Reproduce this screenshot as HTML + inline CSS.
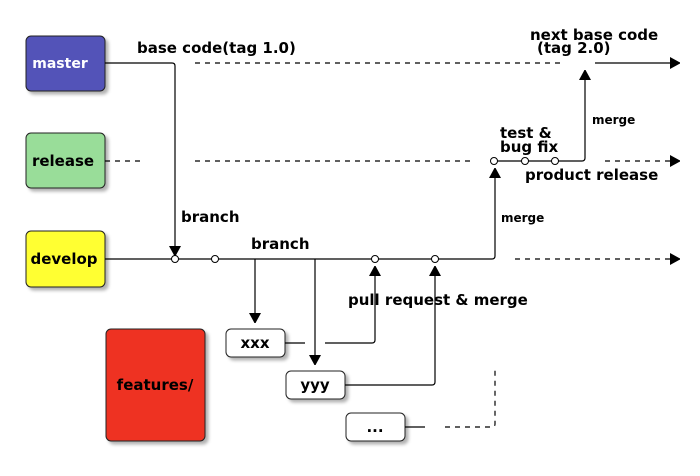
<!DOCTYPE html>
<html><head><style>body{margin:0;background:#fff}svg{display:block}text{font-family:"DejaVu Sans","Liberation Sans",sans-serif;font-weight:bold}</style></head>
<body>
<svg width="700" height="476" viewBox="0 0 700 476" xmlns="http://www.w3.org/2000/svg">
<defs>
<filter id="sh" x="-10%" y="-10%" width="130%" height="130%"><feDropShadow dx="3" dy="3" stdDeviation="1.5" flood-color="#000" flood-opacity="0.3"/></filter>
<marker id="ar" markerWidth="10" markerHeight="12" refX="10" refY="6" orient="auto" markerUnits="userSpaceOnUse"><path d="M0,0 L11,6 L0,12 z" fill="#000"/></marker>
</defs>
<g stroke="#222" stroke-width="1" filter="url(#sh)">
<rect x="26" y="36" width="79" height="55" rx="5" fill="#5352b8"/>
<rect x="26" y="133" width="79" height="55" rx="5" fill="#99dd99"/>
<rect x="26" y="231" width="79" height="56" rx="5" fill="#ffff33"/>
<rect x="106" y="329" width="99" height="112" rx="5" fill="#ee3322"/>
<rect x="226" y="329" width="59" height="28" rx="5" fill="#fff"/>
<rect x="286" y="371" width="59" height="28" rx="5" fill="#fff"/>
<rect x="346" y="413" width="59" height="28" rx="5" fill="#fff"/>
</g>
<g font-size="15" text-anchor="middle">
<text x="60" y="68" fill="#fff" font-size="14">master</text>
<text x="63" y="166">release</text>
<text x="64" y="264">develop</text>
<text x="155" y="390">features/</text>
<text x="255" y="348">xxx</text>
<text x="315" y="390">yyy</text>
<text x="375" y="432">...</text>
</g>
<g fill="none" stroke="#000" stroke-width="1.2">
<path d="M105,63 H172 Q175,63 175,66 V256" marker-end="url(#ar)"/>
<path d="M195,63 H560" stroke-dasharray="5,5"/>
<path d="M595,63 H680" marker-end="url(#ar)"/>
<path d="M105,161 H140" stroke-dasharray="5,5"/>
<path d="M195,161 H470" stroke-dasharray="5,5"/>
<path d="M494,161 H582 Q585,161 585,158 V70" marker-end="url(#ar)"/>
<path d="M605,161 H680" stroke-dasharray="5,5" marker-end="url(#ar)"/>
<path d="M105,259 H492 Q495,259 495,256 V168" marker-end="url(#ar)"/>
<path d="M515,259 H680" stroke-dasharray="5,5" marker-end="url(#ar)"/>
<path d="M255,259 V323" marker-end="url(#ar)"/>
<path d="M315,259 V365" marker-end="url(#ar)"/>
<path d="M285,343 H305"/>
<path d="M325,343 H372 Q375,343 375,340 V266" marker-end="url(#ar)"/>
<path d="M345,385 H432 Q435,385 435,382 V266" marker-end="url(#ar)"/>
<path d="M405,427 H425"/>
<path d="M445,427 H492 Q495,427 495,424 V370" stroke-dasharray="5,5"/>
</g>
<g fill="#fff" stroke="#000" stroke-width="1">
<circle cx="175" cy="259" r="3.5"/><circle cx="215" cy="259" r="3.5"/>
<circle cx="375" cy="259" r="3.5"/><circle cx="435" cy="259" r="3.5"/>
<circle cx="494" cy="161" r="3.5"/><circle cx="525" cy="161" r="3.5"/><circle cx="555" cy="161" r="3.5"/>
</g>
<g font-size="15">
<text x="137" y="53">base code(tag 1.0)</text>
<text x="530" y="40">next base code</text>
<text x="537" y="53">(tag 2.0)</text>
<text x="500" y="138">test &amp;</text>
<text x="500" y="152">bug fix</text>
<text x="525" y="180">product release</text>
<text x="181" y="222">branch</text>
<text x="251" y="249">branch</text>
<text x="348" y="305">pull request &amp; merge</text>
<text x="592" y="124" font-size="12">merge</text>
<text x="501" y="222" font-size="12">merge</text>
</g>
</svg>
</body></html>
